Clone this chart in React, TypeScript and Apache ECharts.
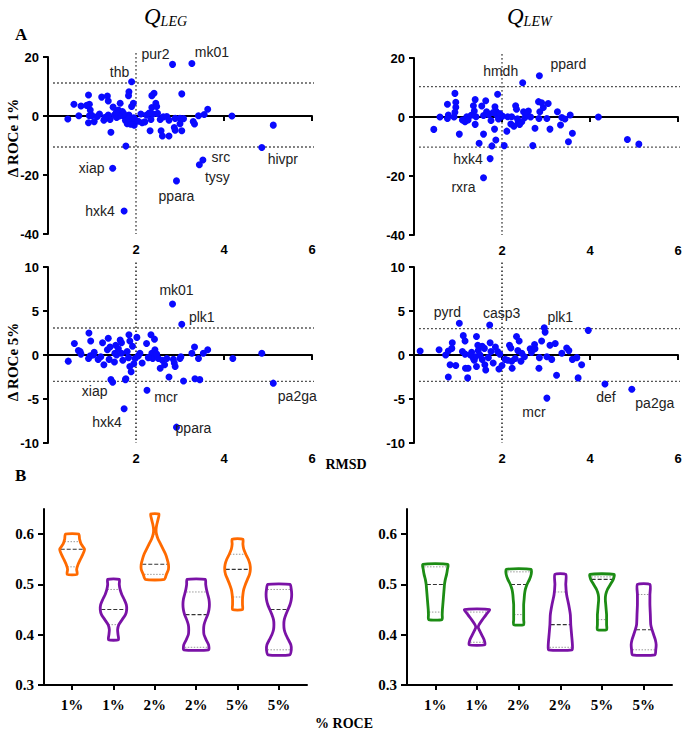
import React, { useEffect, useRef } from "react";
import * as echarts from "echarts";

// ---------- DATA ----------
// Panel A: RMSD (x) vs Δ ROCe (y)
const legRoce1: [number, number][] = [
  [0.45, -1.0], [0.59, 4.0], [0.70, 0.1], [0.75, 3.4], [0.92, 7.1], [0.94, 4.0], [0.96, 2.0], [0.94, 0.1],
  [0.92, -2.3], [1.05, -1.9], [1.17, 0.7], [1.22, 6.4], [1.35, 6.8], [1.37, 5.1], [1.27, -1.4], [1.41, -1.2],
  [1.37, 0.3], [1.51, 0.3], [1.56, -0.5], [1.43, -5.5], [1.64, 4.3], [1.60, 2.0], [1.69, 1.5], [1.71, 0.0],
  [1.84, 8.2], [1.83, 6.9], [1.94, 4.3], [1.90, 3.2], [1.84, 0.3], [1.86, -1.4], [1.92, -2.3], [1.98, -1.2],
  [1.96, -3.1], [1.77, -10.2], [2.14, -2.3], [2.11, 0.7], [2.24, 0.3], [2.36, 6.9], [2.41, 7.7], [2.36, 2.9],
  [2.45, 4.3], [2.47, 3.2], [2.39, 0.7], [2.34, -1.2], [2.32, -5.0], [2.55, -1.2], [2.57, -5.0], [2.60, -6.8],
  [2.70, -0.2], [2.75, -1.4], [2.75, -6.8], [2.87, -3.9], [2.89, -0.8], [3.0, -0.8], [3.0, -2.6], [3.04, 7.5],
  [2.89, -4.8], [3.04, -5.0], [3.30, -1.9], [3.33, -2.7], [3.42, 0.1], [3.55, 0.5], [3.63, 2.3], [4.18, 0.0],
  [2.49, 0.9], [5.12, -3.1], [1.76, -1.5], [1.80, -2.6], [1.88, -2.8], [1.95, -0.6], [1.72, 0.8], [1.84, -0.8],
  [2.05, -1.8], [1.62, 0.0], [1.30, -0.4], [0.88, 3.6], [1.00, 0.2], [2.62, -0.3], [2.30, 1.0], [3.08, -0.9],
  [1.12, -0.2], [1.48, 3.0], [1.55, 1.2], [2.20, -2.0],
];
const legRoce1Named: [string, number, number][] = [
  ["thb", 1.90, 11.6], ["pur2", 2.83, 17.5], ["mk01", 3.27, 17.8], ["src", 3.52, -14.9], ["tysy", 3.44, -16.5],
  ["ppara", 2.92, -22.0], ["hivpr", 4.86, -10.7], ["xiap", 1.47, -17.7], ["hxk4", 1.73, -32.2],
];
const legRoce1Cutoffs = [11.2, -10.5];

const lewRoce1: [number, number][] = [
  [0.45, -4.2], [0.59, 0], [0.76, 4.3], [0.78, 0.7], [0.76, -0.5], [0.93, 8.0], [0.95, 5.0], [0.95, 3.3],
  [0.93, 1.6], [0.91, 0], [1.03, -5.8], [1.20, 0.1], [1.16, -1.6], [1.23, -1.0], [1.35, 3.8], [1.39, 5.9],
  [1.37, 2.0], [1.41, 0.1], [1.39, -2.5], [1.54, 3.7], [1.63, 5.5], [1.58, 0.5], [1.65, 1.8], [1.58, -5.8],
  [1.48, -8.9], [1.77, -9.8], [1.83, -4.1], [1.86, -7.8], [1.90, 7.7], [1.84, 3.5], [1.86, 2.0], [1.88, 0.7],
  [1.92, -0.7], [2.01, 0.3], [2.05, -9.7], [2.11, -4.8], [2.13, 0.1], [2.22, 0.1], [2.27, -3.1], [2.31, 3.8],
  [2.33, 2.6], [2.37, -1.6], [2.49, 1.8], [2.52, -0.2], [2.45, -1.6], [2.60, 2.0], [2.70, -9.7], [2.75, -3.8],
  [2.83, 5.2], [2.86, 1.8], [2.84, -0.5], [2.94, 3.2], [3.02, -0.5], [3.05, 4.6], [3.09, -4.1], [3.26, 1.8],
  [3.33, -2.7], [3.36, -0.2], [3.43, -0.7], [3.55, 0.7], [3.60, -5.5], [3.51, -8.4], [4.19, 0], [4.85, -7.6],
  [5.11, -9.2], [1.70, 0.9], [1.75, -1.2], [1.95, 1.2], [2.40, -2.5], [2.55, 1.0], [2.35, -0.6], [1.30, 0.6],
  [1.10, -1.0], [2.90, 4.8], [2.65, 0.0], [1.80, 1.5], [2.20, -2.4],
];
const lewRoce1Named: [string, number, number][] = [
  ["hmdh", 2.47, 11.6], ["ppard", 2.85, 14.0], ["hxk4", 1.73, -14.1], ["rxra", 1.58, -20.6],
];
const lewRoce1Cutoffs = [10.3, -10.2];

const legRoce5: [number, number][] = [
  [0.46, -0.7], [0.60, 1.3], [0.69, 0.5], [0.73, 0.4], [0.75, 0.1], [0.93, 2.5], [0.97, 1.6], [0.96, -0.1],
  [0.92, -0.4], [1.03, 0], [1.14, -0.5], [1.24, 1.4], [1.27, -1.1], [1.37, 1.9], [1.35, 0.6], [1.41, 0.9],
  [1.39, -0.5], [1.54, 1.1], [1.52, 0.2], [1.51, -0.8], [1.56, 0], [1.43, -2.8], [1.64, 1.7], [1.67, 1.4],
  [1.67, 0.2], [1.76, -2.8], [1.84, 2.3], [1.86, 1.6], [1.92, 1.0], [1.83, -0.3], [1.86, -1.3], [1.89, -1.9],
  [1.98, -0.4], [2.02, 2.0], [2.09, 0.2], [2.14, -0.9], [2.24, 1.3], [2.34, 2.3], [2.42, 1.8], [2.36, 0.2],
  [2.38, -0.4], [2.43, 0.6], [2.51, -0.4], [2.55, -1.5], [2.60, -0.6], [2.70, -0.4], [2.75, -2.5], [2.85, -0.5],
  [2.87, -0.9], [2.89, -1.3], [3.0, -0.4], [3.02, -0.2], [3.08, -2.95], [3.27, 0.2], [3.33, 0.9], [3.42, -0.4],
  [3.34, -2.7], [3.45, -2.8], [3.53, 0.2], [3.63, 0.6], [4.86, 0.2], [4.2, -0.4], [1.77, -2.7], [1.70, -0.6],
  [1.80, 0.4], [1.95, -1.0], [2.28, -0.3], [1.20, -0.2], [2.47, 0.1], [1.60, 0.7], [2.05, -0.1], [1.05, 0.3],
  [2.65, -1.1],
];
const legRoce5Named: [string, number, number][] = [
  ["mk01", 2.83, 5.8], ["plk1", 3.04, 3.5], ["xiap", 1.47, -3.1], ["hxk4", 1.73, -6.1],
  ["mcr", 2.25, -4.0], ["ppara", 2.92, -8.2], ["pa2ga", 5.12, -3.2],
];
const legRoce5Cutoffs = [3.07, -3.0];

const lewRoce5: [number, number][] = [
  [0.14, 0.45], [0.57, 0.6], [0.72, 0], [0.78, 0.45], [0.86, 0.75], [0.87, 1.4], [0.82, -1.1], [0.95, -1.2],
  [0.78, -2.5], [1.12, 2.2], [1.16, 1.6], [1.10, 0.4], [1.16, 0.1], [1.17, -1.5], [1.23, -1.5], [1.22, -2.6],
  [1.31, 0.3], [1.35, -0.4], [1.37, -0.6], [1.42, 2.1], [1.45, 1.1], [1.42, -1.3], [1.46, 0.5], [1.5, 0],
  [1.55, 1.0], [1.60, 0.75], [1.61, -1.1], [1.63, -1.7], [1.69, -0.3], [1.73, 1.4], [1.75, 0.4], [1.80, -0.9],
  [1.90, 0.4], [1.93, -1.6], [1.95, 0.1], [2.07, -0.5], [2.13, -0.6], [2.17, 1.1], [2.20, 0.8], [2.22, -0.7],
  [2.23, -1.5], [2.30, -0.4], [2.33, 2.1], [2.39, 1.6], [2.36, 0.5], [2.43, -0.7], [2.51, -0.2], [2.64, 0.7],
  [2.67, 0.3], [2.74, 1.2], [2.75, 0.7], [2.84, -1.5], [2.90, 1.6], [2.98, 2.6], [3.02, -0.2], [3.09, 1.1],
  [3.13, -0.5], [3.21, 1.3], [3.24, -2.3], [3.36, 0.2], [3.47, 0.8], [3.52, 0.5], [3.60, -0.5], [3.70, -0.3],
  [3.73, -2.6], [3.81, -1.1], [3.96, 2.8], [1.40, -0.2], [1.55, -0.5], [2.00, -1.2], [2.45, 0.2], [1.28, 0.0],
  [2.85, -0.3], [1.85, 0.9],
];
const lewRoce5Named: [string, number, number][] = [
  ["pyrd", 1.03, 3.6], ["casp3", 1.72, 3.4], ["plk1", 2.96, 3.1], ["mcr", 3.02, -4.9],
  ["def", 4.34, -3.3], ["pa2ga", 4.95, -3.9],
];
const lewRoce5Cutoffs = [3.0, -3.0];

const rmsdThreshold = 2;

// Panel B: violins, each a profile of [value, half-width] from top to bottom
const violinCategories = ["1%", "1%", "2%", "2%", "5%", "5%"];
const legViolins: [number, number][][] = [
  [[0.60, 0.16], [0.59, 0.18], [0.58, 0.22], [0.57, 0.30], [0.56, 0.26], [0.55, 0.20], [0.54, 0.145], [0.53, 0.11], [0.52, 0.12]],
  [[0.51, 0.14], [0.50, 0.14], [0.49, 0.16], [0.48, 0.20], [0.47, 0.26], [0.46, 0.31], [0.45, 0.32], [0.44, 0.29], [0.43, 0.21], [0.42, 0.13], [0.41, 0.10], [0.40, 0.11], [0.39, 0.12]],
  [[0.64, 0.10], [0.63, 0.08], [0.62, 0.05], [0.61, 0.03], [0.60, 0.04], [0.59, 0.08], [0.58, 0.14], [0.57, 0.20], [0.56, 0.26], [0.55, 0.30], [0.54, 0.33], [0.53, 0.33], [0.52, 0.28], [0.51, 0.23]],
  [[0.51, 0.22], [0.50, 0.23], [0.49, 0.25], [0.48, 0.28], [0.47, 0.31], [0.46, 0.32], [0.45, 0.31], [0.44, 0.28], [0.43, 0.23], [0.42, 0.19], [0.41, 0.18], [0.40, 0.19], [0.39, 0.24], [0.38, 0.30], [0.37, 0.30]],
  [[0.59, 0.13], [0.58, 0.13], [0.57, 0.15], [0.56, 0.20], [0.55, 0.26], [0.54, 0.30], [0.53, 0.31], [0.52, 0.29], [0.51, 0.24], [0.50, 0.19], [0.49, 0.15], [0.48, 0.13], [0.47, 0.12], [0.46, 0.12], [0.45, 0.12]],
  [[0.50, 0.27], [0.49, 0.30], [0.48, 0.31], [0.47, 0.30], [0.46, 0.27], [0.45, 0.22], [0.44, 0.17], [0.43, 0.13], [0.42, 0.12], [0.41, 0.13], [0.40, 0.17], [0.39, 0.23], [0.38, 0.29], [0.37, 0.30], [0.36, 0.26]],
];
const legQuartiles: number[][] = [
  [0.535, 0.57, 0.585], [0.42, 0.45, 0.49], [0.52, 0.54, 0.60],
  [0.375, 0.44, 0.485], [0.475, 0.53, 0.56], [0.37, 0.45, 0.49],
];
const lewViolins: [number, number][][] = [
  [[0.54, 0.30], [0.53, 0.29], [0.52, 0.27], [0.51, 0.24], [0.50, 0.22], [0.49, 0.21], [0.48, 0.20], [0.47, 0.19], [0.46, 0.18], [0.45, 0.17], [0.44, 0.165], [0.43, 0.16]],
  [[0.45, 0.30], [0.44, 0.22], [0.43, 0.13], [0.42, 0.05], [0.415, 0.03], [0.41, 0.05], [0.40, 0.11], [0.39, 0.17], [0.38, 0.19]],
  [[0.53, 0.30], [0.52, 0.30], [0.51, 0.26], [0.50, 0.20], [0.49, 0.16], [0.48, 0.14], [0.47, 0.13], [0.46, 0.12], [0.45, 0.12], [0.44, 0.12], [0.43, 0.12], [0.42, 0.12]],
  [[0.52, 0.13], [0.50, 0.13], [0.48, 0.15], [0.46, 0.20], [0.44, 0.24], [0.42, 0.25], [0.40, 0.27], [0.38, 0.29], [0.37, 0.28]],
  [[0.52, 0.29], [0.51, 0.27], [0.50, 0.20], [0.49, 0.13], [0.48, 0.09], [0.47, 0.08], [0.46, 0.09], [0.45, 0.10], [0.44, 0.11], [0.43, 0.11], [0.42, 0.11], [0.41, 0.11]],
  [[0.50, 0.15], [0.48, 0.15], [0.46, 0.15], [0.44, 0.16], [0.42, 0.17], [0.41, 0.20], [0.40, 0.24], [0.39, 0.28], [0.38, 0.30], [0.37, 0.29], [0.36, 0.27]],
];
const lewQuartiles: number[][] = [
  [0.445, 0.50, 0.535], [0.385, 0.415, 0.445], [0.44, 0.50, 0.525],
  [0.375, 0.42, 0.485], [0.43, 0.51, 0.515], [0.37, 0.41, 0.48],
];

// ---------- STYLE ----------
const SANS = "'Liberation Sans', Arial, sans-serif";
const SERIF = "'Liberation Serif', 'Times New Roman', serif";
const ORANGE = "#ff6a00";
const PURPLE = "#7a12a6";
const GREEN = "#1c8c14";
const BLUE = "#0a0aff";
const legColors = [ORANGE, PURPLE, ORANGE, PURPLE, ORANGE, PURPLE];
const lewColors = [GREEN, PURPLE, GREEN, PURPLE, GREEN, PURPLE];

// label offsets (px) relative to the labelled point
const labelOffsets: Record<string, [number, number]>[] = [
  { thb: [-12, -10], pur2: [-17, -10], mk01: [20, -11], src: [18, -3], tysy: [18, 12], ppara: [0, 15], hivpr: [21, 11], xiap: [-21, 0], hxk4: [-24, 0] },
  { hmdh: [-22, -12], ppard: [29, -12], hxk4: [-22, 0], rxra: [-20, 9] },
  { mk01: [4, -14], plk1: [20, -7], xiap: [-18, 9], hxk4: [-17, 13], mcr: [19, 7], ppara: [17, 1], pa2ga: [24, 13] },
  { pyrd: [-12, -11], casp3: [12, -12], plk1: [16, -11], mcr: [-13, 14], def: [1, 13], pa2ga: [23, 14] },
];

const grids = [
  { left: 48, top: 57, width: 264, height: 177 },
  { left: 414, top: 58, width: 264, height: 177 },
  { left: 48, top: 267, width: 264, height: 176 },
  { left: 414, top: 267, width: 264, height: 176 },
  { left: 44, top: 509, width: 263, height: 176 },
  { left: 407, top: 509, width: 265, height: 176 },
];

const axisLineStyle = { color: "#000", width: 2 };

function scatterX(gi: number) {
  return {
    type: "value", gridIndex: gi, min: 0, max: 6, interval: 2,
    axisLine: { show: true, onZero: true, lineStyle: axisLineStyle },
    axisTick: { show: true, length: 5, lineStyle: axisLineStyle },
    axisLabel: {
      color: "#000", fontWeight: "bold", fontFamily: SANS, fontSize: 13, margin: 9,
      formatter: (v: number) => (v === 0 ? "" : String(v)),
    },
    splitLine: { show: false },
    z: 3,
  };
}
function scatterY(gi: number, min: number, max: number, interval: number) {
  return {
    type: "value", gridIndex: gi, min, max, interval,
    axisLine: { show: true, onZero: false, lineStyle: axisLineStyle },
    axisTick: { show: true, length: 5, lineStyle: axisLineStyle },
    axisLabel: { color: "#000", fontWeight: "bold", fontFamily: SANS, fontSize: 13, margin: 9 },
    splitLine: { show: false },
  };
}
const violinTickPositions = violinCategories.map((_, i) => i);
const violinYTicks = [0.3, 0.4, 0.5, 0.6];
function violinX(gi: number) {
  return {
    type: "value", gridIndex: gi, min: -0.68, max: 5.68,
    axisLine: { show: true, onZero: false, lineStyle: axisLineStyle },
    axisTick: { show: true, length: 5, lineStyle: axisLineStyle, customValues: violinTickPositions },
    axisLabel: {
      color: "#000", fontWeight: "bold", fontFamily: SERIF, fontSize: 15, margin: 12,
      customValues: violinTickPositions,
      formatter: (v: number) => violinCategories[Math.round(v)] ?? "",
    },
    splitLine: { show: false },
  };
}
function violinY(gi: number) {
  return {
    type: "value", gridIndex: gi, min: 0.3, max: 0.65,
    axisLine: { show: true, onZero: false, lineStyle: axisLineStyle },
    axisTick: { show: true, length: 6, lineStyle: axisLineStyle, customValues: violinYTicks },
    axisLabel: {
      color: "#000", fontWeight: "bold", fontFamily: SERIF, fontSize: 15, margin: 10,
      customValues: violinYTicks, formatter: (v: number) => v.toFixed(1),
    },
    splitLine: { show: false },
  };
}

function scatterSeries(
  gi: number, pts: [number, number][], named: [string, number, number][],
  offsets: Record<string, [number, number]>,
) {
  const data: any[] = pts.map((p) => ({ value: p }));
  named.forEach(([name, x, y]) => {
    const off = offsets[name] || [0, -12];
    data.push({
      value: [x, y], name,
      label: {
        show: true, formatter: name, position: "inside", offset: off,
        align: "center", verticalAlign: "middle",
        color: "#222", fontFamily: SANS, fontSize: 14,
      },
    });
  });
  return {
    type: "scatter", xAxisIndex: gi, yAxisIndex: gi, data, symbolSize: 7, clip: false, z: 4,
    itemStyle: { color: BLUE, opacity: 1 },
  };
}

function refLineSeries(gi: number, cutoffs: number[], yTop: number, yBottom: number) {
  const style = { color: "#111", width: 1.4, type: [1.4, 2.6] };
  const segs: [number, number][][] = [
    [[0.12, cutoffs[0]], [6.06, cutoffs[0]]],
    [[0.12, cutoffs[1]], [6.06, cutoffs[1]]],
    [[rmsdThreshold, yTop], [rmsdThreshold, yBottom]],
  ];
  return segs.map((seg) => ({
    type: "line", xAxisIndex: gi, yAxisIndex: gi, data: seg, symbol: "none",
    clip: false, silent: true, lineStyle: style, z: 1,
  }));
}

function halfWidthAt(profile: [number, number][], v: number) {
  for (let k = 0; k < profile.length - 1; k++) {
    const [v1, h1] = profile[k];
    const [v2, h2] = profile[k + 1];
    if ((v <= v1 && v >= v2) || (v >= v1 && v <= v2)) {
      const t = v1 === v2 ? 0 : (v - v1) / (v2 - v1);
      return h1 + (h2 - h1) * t;
    }
  }
  return profile[0][1];
}

function violinSeries(gi: number, profiles: [number, number][][], quartiles: number[][], colors: string[]) {
  return {
    type: "custom", xAxisIndex: gi, yAxisIndex: gi, clip: false,
    data: violinCategories.map((_, i) => [i, quartiles[i][1]]),
    encode: { x: 0, y: 1 },
    renderItem: (params: any, api: any) => {
      const i = params.dataIndex;
      const cx = api.value(0);
      const prof = profiles[i];
      const right = prof.map(([v, h]) => api.coord([cx + h, v]));
      const left = prof.slice().reverse().map(([v, h]) => api.coord([cx - h, v]));
      const children: any[] = [];
      quartiles[i].forEach((q, k) => {
        const h = halfWidthAt(prof, q) * 0.92;
        const p1 = api.coord([cx - h, q]);
        const p2 = api.coord([cx + h, q]);
        children.push({
          type: "line",
          shape: { x1: p1[0], y1: p1[1], x2: p2[0], y2: p2[1] },
          style: k === 1
            ? { stroke: "#333", lineWidth: 1.1, lineDash: [4, 2] }
            : { stroke: "#999", lineWidth: 1, lineDash: [1.5, 1.5] },
        });
      });
      children.push({
        type: "polygon",
        shape: { points: right.concat(left), smooth: 0.2 },
        style: { fill: "none", stroke: colors[i], lineWidth: 2.8, lineJoin: "round" },
      });
      return { type: "group", children };
    },
  };
}

export default function App() {
  const ref = useRef<HTMLDivElement>(null);
  useEffect(() => {
    if (!ref.current) return;
    const chart = echarts.init(ref.current, undefined, { renderer: "svg" });
    const option: any = {
      animation: false,
      backgroundColor: "#fff",
      grid: grids.map((g) => ({ ...g, containLabel: false })),
      xAxis: [scatterX(0), scatterX(1), scatterX(2), scatterX(3), violinX(4), violinX(5)],
      yAxis: [
        scatterY(0, -40, 20, 20), scatterY(1, -40, 20, 20),
        scatterY(2, -10, 10, 5), scatterY(3, -10, 10, 5),
        violinY(4), violinY(5),
      ],
      series: [
        ...refLineSeries(0, legRoce1Cutoffs, 21.3, -40),
        ...refLineSeries(1, lewRoce1Cutoffs, 21.3, -40),
        ...refLineSeries(2, legRoce5Cutoffs, 10.5, -10),
        ...refLineSeries(3, lewRoce5Cutoffs, 10.5, -10),
        scatterSeries(0, legRoce1, legRoce1Named, labelOffsets[0]),
        scatterSeries(1, lewRoce1, lewRoce1Named, labelOffsets[1]),
        scatterSeries(2, legRoce5, legRoce5Named, labelOffsets[2]),
        scatterSeries(3, lewRoce5, lewRoce5Named, labelOffsets[3]),
        violinSeries(4, legViolins, legQuartiles, legColors),
        violinSeries(5, lewViolins, lewQuartiles, lewColors),
      ],
      graphic: [
        {
          type: "text", left: 144, top: 5,
          style: {
            text: "{q|Q}{s|LEG}", fill: "#000",
            rich: {
              q: { fontFamily: SERIF, fontStyle: "italic", fontSize: 23, fill: "#000" },
              s: { fontFamily: SERIF, fontStyle: "italic", fontSize: 14, verticalAlign: "bottom", fill: "#000" },
            },
          },
        },
        {
          type: "text", left: 507, top: 5,
          style: {
            text: "{q|Q}{s|LEW}", fill: "#000",
            rich: {
              q: { fontFamily: SERIF, fontStyle: "italic", fontSize: 23, fill: "#000" },
              s: { fontFamily: SERIF, fontStyle: "italic", fontSize: 14, verticalAlign: "bottom", fill: "#000" },
            },
          },
        },
        { type: "text", x: 15, y: 26, style: { text: "A", font: `bold 17px ${SERIF}`, fill: "#000" } },
        { type: "text", x: 15, y: 467, style: { text: "B", font: `bold 17px ${SERIF}`, fill: "#000" } },
        {
          type: "text", x: 13, y: 138, rotation: Math.PI / 2,
          style: { text: "Δ ROCe 1%", font: `bold 15px ${SERIF}`, fill: "#000", align: "center", verticalAlign: "middle" },
        },
        {
          type: "text", x: 13, y: 362, rotation: Math.PI / 2,
          style: { text: "Δ ROCe 5%", font: `bold 15px ${SERIF}`, fill: "#000", align: "center", verticalAlign: "middle" },
        },
        {
          type: "text", x: 346, y: 464,
          style: { text: "RMSD", font: `bold 14px ${SERIF}`, fill: "#000", align: "center", verticalAlign: "middle" },
        },
        {
          type: "text", x: 344, y: 723,
          style: { text: "% ROCE", font: `bold 14px ${SERIF}`, fill: "#000", align: "center", verticalAlign: "middle" },
        },
      ],
    };
    chart.setOption(option);
    return () => chart.dispose();
  }, []);
  return (
    <div
      ref={ref}
      style={{ position: "absolute", left: 0, top: 0, width: 685, height: 734, background: "#fff" }}
    />
  );
}
